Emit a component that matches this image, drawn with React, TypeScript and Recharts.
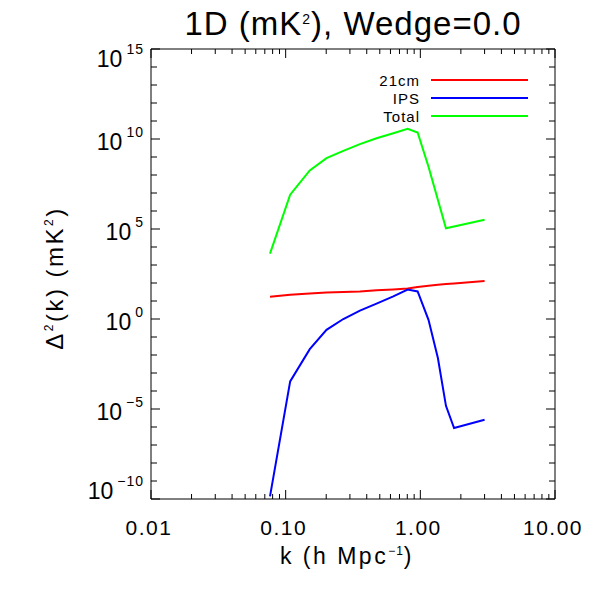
import { Line, LineChart, XAxis, YAxis } from 'recharts';

// k (h Mpc^-1) sample points, shared by the three curves
const kValues = [0.0765, 0.108, 0.151, 0.201, 0.268, 0.356, 0.473, 0.63, 0.805, 0.955, 1.15, 1.35, 1.55, 1.78, 3.0];
const cm21 = [17, 22, 26, 30, 32, 34, 39, 44, 50, 60, 71, 79, 87, 95, 129];
const ips = [1.4e-10, 3.4e-4, 2.1e-2, 0.25, 1.0, 2.9, 7.1, 18, 43, 34, 0.9, 6.8e-3, 1.5e-5, 8.7e-7, 2.5e-6];
const total = [4.3e3, 8.1e6, 1.8e8, 8.7e8, 2.2e9, 5.2e9, 1.1e10, 2.1e10, 3.7e10, 2.3e10, 2.9e8, null, 1.1e5, null, 3.3e5];

const seriesNames = ['21cm', 'IPS', 'Total'];
const seriesColors = ['#ff0000', '#0000ff', '#00ff00'];

const xMajor = [0.01, 0.1, 1, 10];
const xMajorLabels = ['0.01', '0.10', '1.00', '10.00'];
const xMinorMult = [2, 3, 4, 5, 6, 7, 8, 9];
const yExponents = [-10, -9, -8, -7, -6, -5, -4, -3, -2, -1, 0, 1, 2, 3, 4, 5, 6, 7, 8, 9, 10, 11, 12, 13, 14, 15];
const yLabelExponents = [-10, -5, 0, 5, 10, 15];

const FONT = '"Liberation Sans", Arial, sans-serif';

const rows = kValues.map((k, i) => ({ k, cm21: cm21[i], ips: ips[i], total: total[i] }));

const xTicks = [
  ...xMajor,
  ...xMajor.slice(0, 3).flatMap((d) => xMinorMult.map((m) => Number((m * d).toPrecision(3)))),
].sort((a, b) => a - b);
const yTicks = yExponents.map((e) => Number(`1e${e}`));

const near = (a: number, b: number) => Math.abs(a - b) / b < 1e-6;

function XTick({ x, y, payload, top }: any) {
  const v = payload.value;
  const idx = xMajor.findIndex((m) => near(v, m));
  const len = idx >= 0 ? 9 : 5;
  return (
    <g>
      <line x1={x} x2={x} y1={y} y2={top ? y + len : y - len} stroke="#000" />
      {!top && idx >= 0 && (
        <text x={x - 2} y={y + 36} textAnchor="middle" fontSize={21} fontFamily={FONT} letterSpacing={1.5} fill="#000">
          {xMajorLabels[idx]}
        </text>
      )}
    </g>
  );
}

function YTick({ x, y, payload, right }: any) {
  const e = Math.round(Math.log10(payload.value));
  const major = yLabelExponents.includes(e);
  const len = major ? 9 : 6;
  // end labels are pulled inside the axis range
  let base = y + 11;
  if (e === yExponents[0]) base = y;
  if (e === yExponents[yExponents.length - 1]) base = y + 18;
  return (
    <g>
      <line x1={x} x2={right ? x - len : x + len} y1={y} y2={y} stroke="#000" />
      {!right && major && (
        <text x={x - 7} y={base} textAnchor="end" fontSize={23} fontFamily={FONT} fill="#000">
          10
          <tspan dx={4} dy={-13} fontSize={14} letterSpacing={1}>
            {String(e).replace('-', '\u2212')}
          </tspan>
        </text>
      )}
    </g>
  );
}

export default function App() {
  return (
    <div style={{ position: 'absolute', left: 0, top: 0, width: 600, height: 600, background: '#fff' }}>
      <LineChart width={600} height={600} data={rows} margin={{ top: 39, right: 35, bottom: 71, left: 91 }}>
        <XAxis
          xAxisId="b"
          dataKey="k"
          type="number"
          scale="log"
          domain={[0.01, 10]}
          allowDataOverflow
          ticks={xTicks}
          interval={0}
          height={30}
          tickSize={0}
          tickMargin={0}
          tickLine={false}
          axisLine={{ stroke: '#000' }}
          tick={(p: any) => <XTick {...p} />}
        />
        <XAxis
          xAxisId="t"
          orientation="top"
          dataKey="k"
          type="number"
          scale="log"
          domain={[0.01, 10]}
          allowDataOverflow
          ticks={xTicks}
          interval={0}
          height={10}
          tickSize={0}
          tickMargin={0}
          tickLine={false}
          axisLine={{ stroke: '#000' }}
          tick={(p: any) => <XTick {...p} top />}
        />
        <YAxis
          yAxisId="l"
          type="number"
          scale="log"
          domain={[1e-10, 1e15]}
          allowDataOverflow
          ticks={yTicks}
          interval={0}
          width={60}
          tickSize={0}
          tickMargin={0}
          tickLine={false}
          axisLine={{ stroke: '#000' }}
          tick={(p: any) => <YTick {...p} />}
        />
        <YAxis
          yAxisId="r"
          orientation="right"
          type="number"
          scale="log"
          domain={[1e-10, 1e15]}
          allowDataOverflow
          ticks={yTicks}
          interval={0}
          width={10}
          tickSize={0}
          tickMargin={0}
          tickLine={false}
          axisLine={{ stroke: '#000' }}
          tick={(p: any) => <YTick {...p} right />}
        />
        <Line xAxisId="b" yAxisId="l" dataKey="cm21" stroke={seriesColors[0]} strokeWidth={2} dot={false} isAnimationActive={false} />
        <Line xAxisId="b" yAxisId="l" dataKey="ips" stroke={seriesColors[1]} strokeWidth={2} dot={false} isAnimationActive={false} />
        <Line
          xAxisId="b"
          yAxisId="l"
          dataKey="total"
          stroke={seriesColors[2]}
          strokeWidth={2}
          dot={false}
          connectNulls
          isAnimationActive={false}
        />
      </LineChart>
      <svg width={600} height={600} style={{ position: 'absolute', left: 0, top: 0, pointerEvents: 'none' }}>
        <text x={353} y={35} textAnchor="middle" fontSize={33} fontFamily={FONT} letterSpacing={1} fill="#000">
          1D (mK
          <tspan dy={-11} fontSize={14}>
            2
          </tspan>
          <tspan dy={11}>), Wedge=0.0</tspan>
        </text>
        <text x={347} y={564} textAnchor="middle" fontSize={23} fontFamily={FONT} letterSpacing={2.5} fill="#000">
          k (h Mpc
          <tspan dy={-9} fontSize={12} letterSpacing={1}>
            −1
          </tspan>
          <tspan dy={9}>)</tspan>
        </text>
        <text
          x={63}
          y={278}
          transform="rotate(-90 63 278)"
          textAnchor="middle"
          fontSize={24}
          fontFamily={FONT}
          letterSpacing={2.5}
          fill="#000"
        >
          Δ
          <tspan dy={-10} fontSize={12}>
            2
          </tspan>
          <tspan dy={10}>(k) (mK</tspan>
          <tspan dy={-10} fontSize={12}>
            2
          </tspan>
          <tspan dy={10}>)</tspan>
        </text>
        {seriesNames.map((name, i) => (
          <g key={name}>
            <text x={420} y={86 + i * 18} textAnchor="end" fontSize={15} fontFamily={FONT} letterSpacing={1} fill="#000">
              {name}
            </text>
            <line x1={431} x2={528} y1={80 + i * 18} y2={80 + i * 18} stroke={seriesColors[i]} strokeWidth={2} />
          </g>
        ))}
      </svg>
    </div>
  );
}
